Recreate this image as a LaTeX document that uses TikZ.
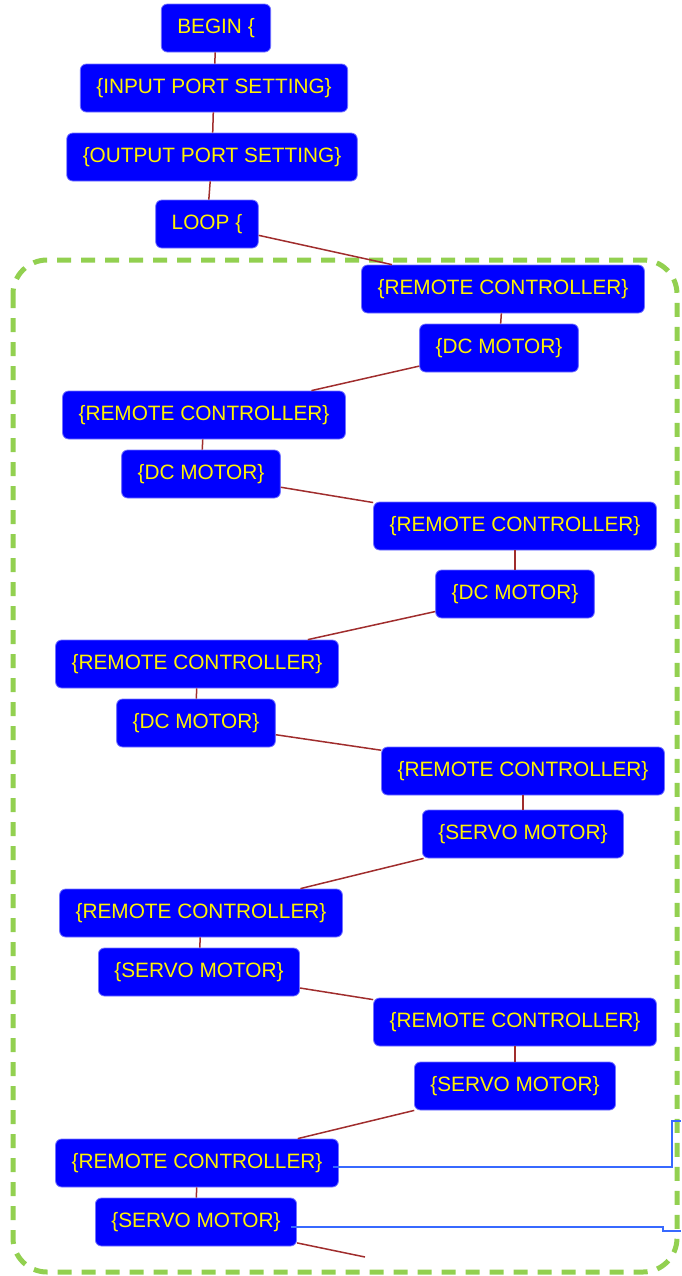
\documentclass[tikz,border=0pt]{standalone}
\usepackage{fontspec}
\setmainfont{Liberation Sans}
\usepackage{tikz}
\definecolor{linkred}{RGB}{160,45,45}
\definecolor{sideblue}{RGB}{55,105,255}
\definecolor{framegreen}{RGB}{146,208,80}

\begin{document}
\begin{tikzpicture}[x=0.5pt,y=-0.5pt,font=\fontsize{10.4}{12}\selectfont,
  blk/.style={draw=blue!55!white,line width=0.4pt,fill=blue,text=yellow,rounded corners=3pt,minimum height=24pt,inner xsep=8pt,inner ysep=0pt},
  link/.style={draw=linkred,line width=0.75pt},
  sideline/.style={draw=sideblue,line width=0.75pt},
  loopframe/.style={draw=framegreen,line width=2.5pt,dash pattern=on 7pt off 5pt,rounded corners=17pt}]
\useasboundingbox (0,0) rectangle (681,1276);
\draw[loopframe] (13,260) rectangle (677,1272);
% program head
\node[blk] (begin) at (216,28) {BEGIN \{};
\node[blk] (inport) at (214,88) {\{INPUT PORT SETTING\}};
\node[blk] (outport) at (212,157) {\{OUTPUT PORT SETTING\}};
\node[blk] (loop) at (207,224) {LOOP \{};
% loop body
\node[blk] (rc1) at (503,289) {\{REMOTE CONTROLLER\}};
\node[blk] (dc1) at (499,348) {\{DC MOTOR\}};
\node[blk] (rc2) at (204,415) {\{REMOTE CONTROLLER\}};
\node[blk] (dc2) at (201,474) {\{DC MOTOR\}};
\node[blk] (rc3) at (515,526) {\{REMOTE CONTROLLER\}};
\node[blk] (dc3) at (515,594) {\{DC MOTOR\}};
\node[blk] (rc4) at (197,664) {\{REMOTE CONTROLLER\}};
\node[blk] (dc4) at (196,723) {\{DC MOTOR\}};
\node[blk] (rc5) at (523,771) {\{REMOTE CONTROLLER\}};
\node[blk] (sv5) at (523,834) {\{SERVO MOTOR\}};
\node[blk] (rc6) at (201,913) {\{REMOTE CONTROLLER\}};
\node[blk] (sv6) at (199,972) {\{SERVO MOTOR\}};
\node[blk] (rc7) at (515,1022) {\{REMOTE CONTROLLER\}};
\node[blk] (sv7) at (515,1086) {\{SERVO MOTOR\}};
\node[blk] (rc8) at (197,1163) {\{REMOTE CONTROLLER\}};
\node[blk] (sv8) at (196,1222) {\{SERVO MOTOR\}};
\coordinate (cut) at (365,1257);
\coordinate (bendA) at (672,1121);
\coordinate (outA) at (681,1121);
\coordinate (bendB) at (663,1231);
\coordinate (outB) at (681,1231);
\draw[link] (begin) -- (inport);
\draw[link] (inport) -- (outport);
\draw[link] (outport) -- (loop);
\draw[link] (loop) -- (rc1);
\draw[link] (rc1) -- (dc1);
\draw[link] (dc1) -- (rc2);
\draw[link] (rc2) -- (dc2);
\draw[link] (dc2) -- (rc3);
\draw[link] (rc3) -- (dc3);
\draw[link] (dc3) -- (rc4);
\draw[link] (rc4) -- (dc4);
\draw[link] (dc4) -- (rc5);
\draw[link] (rc5) -- (sv5);
\draw[link] (sv5) -- (rc6);
\draw[link] (rc6) -- (sv6);
\draw[link] (sv6) -- (rc7);
\draw[link] (rc7) -- (sv7);
\draw[link] (sv7) -- (rc8);
\draw[link] (rc8) -- (sv8);
\draw[link] (sv8) -- (cut);
% lines leaving to the right
\draw[sideline] ([shift={(-6,4)}]rc8.east) -- ([yshift=-2pt]rc8.east -| bendA) -- (bendA) -- (outA);
\draw[sideline] ([shift={(-6,5)}]sv8.east) -- ([yshift=-2.5pt]sv8.east -| bendB) -- ++(0,4) -- (outB);
\end{tikzpicture}
\end{document}
